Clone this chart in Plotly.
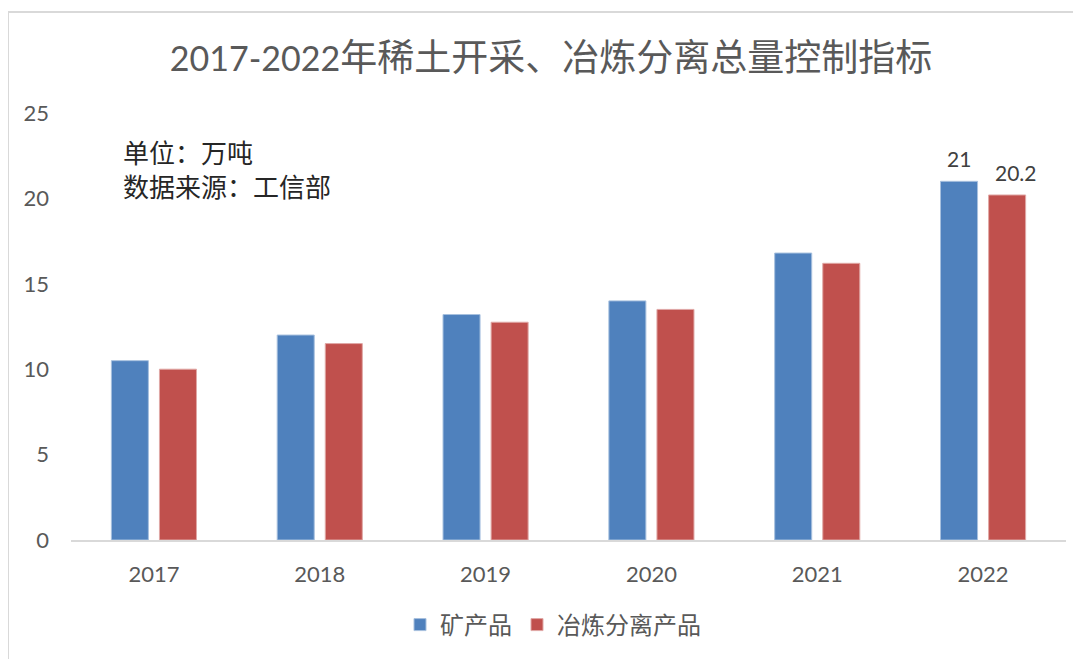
import plotly.graph_objects as go

years = ["2017", "2018", "2019", "2020", "2021", "2022"]
mining = [10.5, 12.0, 13.2, 14.0, 16.8, 21.0]
smelting = [10.0, 11.5, 12.75, 13.5, 16.2, 20.2]
mining_labels = ["", "", "", "", "", "21"]
smelting_labels = ["", "", "", "", "", "20.2"]
series_names = ["矿产品", "冶炼分离产品"]
title_text = "2017-2022年稀土开采、冶炼分离总量控制指标"
note_lines = ["单位：万吨", "数据来源：工信部"]
y_ticks = [0, 5, 10, 15, 20, 25]

FONT = "Lato, 'Noto Sans CJK SC', sans-serif"
CJK = "'Noto Sans CJK SC', sans-serif"
GRAY = "#595959"

OFF = 8  # page body margin
W, H = 1081 - OFF, 659 - OFF
L, R, T, B = 71 - OFF, 15, 113 - OFF, 119
pw, ph = W - L - R, H - T - B


def px_x(p):
    return (p - OFF - L) / pw


def px_y(p):
    return (H - B - (p - OFF)) / ph


fig = go.Figure()
fig.add_trace(go.Bar(
    x=years, y=mining, name=series_names[0],
    marker=dict(color="#4F81BD", line=dict(color="#A7C0DE", width=1)),
))
fig.add_trace(go.Bar(
    x=years, y=smelting, name=series_names[1],
    marker=dict(color="#C0504D", line=dict(color="#E0A8A6", width=1)),
))

# data labels (only last year), placed on the category axis by index
for vals, labels, xs in ((mining, mining_labels, -24), (smelting, smelting_labels, 33)):
    for idx, (v, lab) in enumerate(zip(vals, labels)):
        if lab:
            fig.add_annotation(
                x=idx, y=v, xref="x", yref="y", text=lab, showarrow=False,
                xshift=xs, yshift=8, xanchor="center", yanchor="bottom",
                font=dict(family=FONT, size=21, color="#404040"),
            )

fig.update_layout(
    width=W, height=H,
    margin=dict(l=L, r=R, t=T, b=B, autoexpand=False),
    paper_bgcolor="white", plot_bgcolor="white",
    barmode="group", bargap=0.42, bargroupgap=0.23,
    title=dict(
        text=title_text.replace("2017-2022", "<span style='font-family:Lato;font-size:34px'>2017-2022</span>"),
        x=(551 - OFF) / W, xanchor="center", xref="container",
        y=1 - (58 - OFF) / H, yanchor="middle", yref="container",
        font=dict(family=CJK, size=37, color=GRAY),
    ),
    showlegend=True,
    legend=dict(
        orientation="h", x=px_x(553), xanchor="center",
        y=px_y(625), yanchor="middle",
        font=dict(family=CJK, size=24, color=GRAY),
        itemclick=False, itemwidth=30,
    ),
    xaxis=dict(
        type="category", categoryorder="array", categoryarray=years,
        range=[-0.5, len(years) - 0.5],
        showline=True, linecolor="#D9D9D9", linewidth=2,
        ticks="", showgrid=False,
        tickfont=dict(family=FONT, size=22, color=GRAY),
        ticklabelstandoff=14,
    ),
    yaxis=dict(
        range=[0, 25], tickvals=y_ticks, showgrid=False, zeroline=False,
        showline=False, ticks="",
        tickfont=dict(family=FONT, size=22, color=GRAY),
        ticklabelstandoff=21,
    ),
)

fig.add_annotation(
    text="<br>".join(note_lines), xref="paper", yref="paper", align="left",
    x=px_x(121), y=px_y(168), xanchor="left", yanchor="middle",
    showarrow=False, font=dict(family=CJK, size=26, color="#262626"),
)

# chart-area border (left and top)
fig.add_shape(type="line", xref="paper", yref="paper",
              x0=px_x(8), x1=px_x(8), y0=px_y(670), y1=px_y(12),
              line=dict(color="#D9D9D9", width=2))
fig.add_shape(type="line", xref="paper", yref="paper",
              x0=px_x(8), x1=px_x(1090), y0=px_y(12), y1=px_y(12),
              line=dict(color="#D9D9D9", width=2))

fig.write_html("out.html")
